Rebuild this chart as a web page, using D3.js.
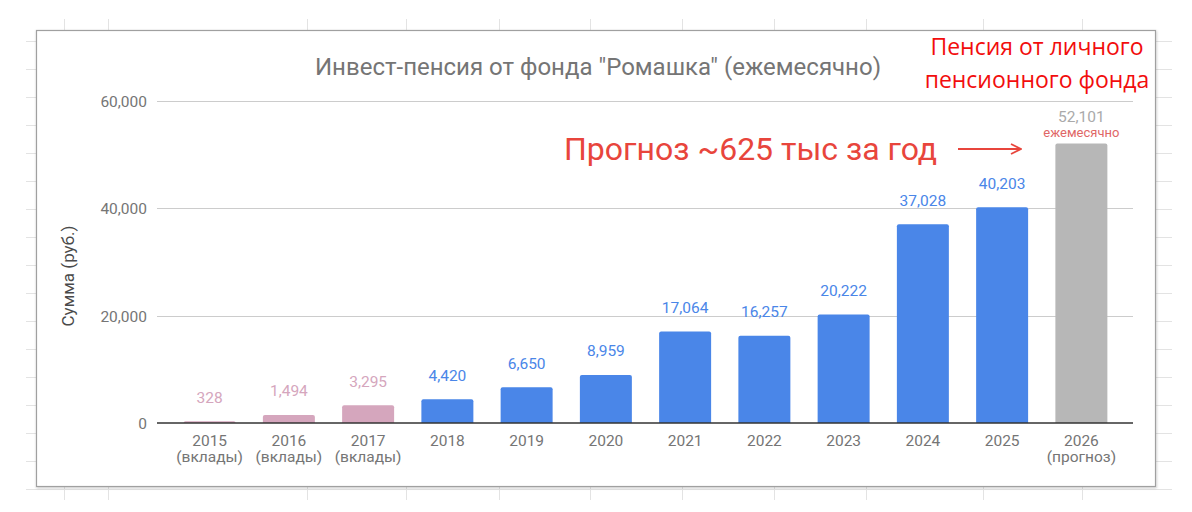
<!DOCTYPE html>
<html>
<head>
<meta charset="utf-8">
<script src="https://cdn.jsdelivr.net/npm/d3@7/dist/d3.min.js"></script>
<style>
  html, body { margin: 0; padding: 0; background: #fff; }
  svg { display: block; }
</style>
</head>
<body>
<svg id="chart" width="1192" height="512"></svg>
<script>
// ---- data ----
const years = ["2015", "2016", "2017", "2018", "2019", "2020", "2021", "2022", "2023", "2024", "2025", "2026"];
const subLabels = ["(вклады)", "(вклады)", "(вклады)", "", "", "", "", "", "", "", "", "(прогноз)"];
const values = [328, 1494, 3295, 4420, 6650, 8959, 17064, 16257, 20222, 37028, 40203, 52101];
const groups = ["deposit", "deposit", "deposit", "invest", "invest", "invest", "invest", "invest", "invest", "invest", "invest", "forecast"];
const yTicks = [0, 20000, 40000, 60000];
const title = "Инвест-пенсия от фонда \"Ромашка\" (ежемесячно)";
const yTitle = "Сумма (руб.)";
const forecastNote = "Прогноз ~625 тыс за год";
const forecastSub = "ежемесячно";
const cornerNote = ["Пенсия от личного", "пенсионного фонда"];
// spreadsheet background grid (column / row positions in the screenshot)
const sheetCols = [64, 108, 307, 406, 499, 590, 682, 774, 866, 983, 1082];
const sheetRows = [41, 69, 97, 125, 153, 181, 209, 237, 265, 293, 321, 349, 377, 405, 433, 461, 489];

const barColor = { deposit: "#d5a6bd", invest: "#4a86e8", forecast: "#b7b7b7" };
const labelColor = { deposit: "#d5a6bd", invest: "#4a86e8", forecast: "#aaaaaa" };

const svg = d3.select("#chart");
const font = "Roboto, 'Noto Sans', Arial, sans-serif";

// ---- spreadsheet grid behind ----
const sheet = svg.append("g").attr("stroke", "#e3e3e3").attr("stroke-width", 1);
sheet.selectAll("line.col").data(sheetCols).join("line")
  .attr("x1", d => d + 0.5).attr("x2", d => d + 0.5).attr("y1", 19).attr("y2", 500);
sheet.selectAll("line.row").data(sheetRows).join("line")
  .attr("x1", 26).attr("x2", 1172).attr("y1", d => d + 0.5).attr("y2", d => d + 0.5);

// ---- chart frame ----
const defs = svg.append("defs");
const f = defs.append("filter").attr("id", "sh").attr("x", "-5%").attr("y", "-5%").attr("width", "110%").attr("height", "110%");
f.append("feDropShadow").attr("dx", 0.5).attr("dy", 1).attr("stdDeviation", 0.8).attr("flood-color", "#000").attr("flood-opacity", 0.25);
svg.append("rect").attr("x", 36.5).attr("y", 30.5).attr("width", 1119).attr("height", 456)
  .attr("fill", "#fff").attr("stroke", "#a0a0a0").attr("stroke-width", 1.2).attr("filter", "url(#sh)");

// ---- scales ----
const plotLeft = 157, plotRight = 1133;
const y = d3.scaleLinear().domain([0, 60000]).range([423, 101]);
const pad = 0.344;
const x = d3.scaleBand().domain(years).range([170, 1121]).paddingInner(pad).paddingOuter(pad / 2);

// gridlines
svg.append("g").selectAll("line").data(yTicks.filter(d => d !== 0)).join("line")
  .attr("x1", plotLeft).attr("x2", plotRight)
  .attr("y1", d => Math.round(y(d)) + 0.5).attr("y2", d => Math.round(y(d)) + 0.5)
  .attr("stroke", "#cccccc").attr("stroke-width", 1);

// y axis labels
const yAxis = d3.axisLeft(y).tickValues(yTicks).tickFormat(d3.format(",")).tickSize(0).tickPadding(0);
const yg = svg.append("g").attr("transform", "translate(147,0)").call(yAxis);
yg.select(".domain").remove();
yg.selectAll("text").attr("fill", "#757575").attr("font-family", font).attr("font-size", 15.5).attr("dy", "0.35em");

// y title
svg.append("text").attr("transform", "translate(74,276) rotate(-90)")
  .attr("text-anchor", "middle").attr("font-family", font).attr("font-size", 17)
  .attr("fill", "#4a4a4a").text(yTitle);

// title
svg.append("text").attr("x", 598).attr("y", 75).attr("text-anchor", "middle")
  .attr("font-family", font).attr("font-size", 24).attr("fill", "#757575").text(title);

// bars (rounded top corners)
const r = 2;
function barPath(d, i) {
  const x0 = x(years[i]), w = x.bandwidth(), y0 = y(0), y1 = y(d);
  const h = y0 - y1;
  const rr = Math.min(r, h);
  return `M${x0},${y0}V${y1 + rr}Q${x0},${y1} ${x0 + rr},${y1}H${x0 + w - rr}Q${x0 + w},${y1} ${x0 + w},${y1 + rr}V${y0}Z`;
}
svg.append("g").selectAll("path").data(values).join("path")
  .attr("d", barPath)
  .attr("fill", (d, i) => barColor[groups[i]]);

// baseline
svg.append("line").attr("x1", plotLeft).attr("x2", plotRight)
  .attr("y1", y(0)).attr("y2", y(0)).attr("stroke", "#333").attr("stroke-width", 1.5);

// value labels
svg.append("g").selectAll("text").data(values).join("text")
  .attr("x", (d, i) => x(years[i]) + x.bandwidth() / 2)
  .attr("y", (d, i) => y(d) - (groups[i] === "forecast" ? 21 : 18.5))
  .attr("text-anchor", "middle").attr("font-family", font).attr("font-size", 15.5)
  .attr("fill", (d, i) => labelColor[groups[i]])
  .text(d => d3.format(",")(d));

// forecast sub label
const lastI = values.length - 1;
svg.append("text").attr("x", x(years[lastI]) + x.bandwidth() / 2).attr("y", y(values[lastI]) - 6)
  .attr("text-anchor", "middle").attr("font-family", font).attr("font-size", 13)
  .attr("fill", "#e06666").text(forecastSub);

// x labels
const xl = svg.append("g").selectAll("g").data(years).join("g")
  .attr("transform", d => `translate(${x(d) + x.bandwidth() / 2},0)`);
xl.append("text").attr("y", 445.5).attr("text-anchor", "middle").attr("font-family", font)
  .attr("font-size", 15.5).attr("fill", "#757575").text(d => d);
xl.append("text").attr("y", 462).attr("text-anchor", "middle").attr("font-family", font)
  .attr("font-size", 15.5).attr("fill", "#757575").text((d, i) => subLabels[i]);

// big forecast annotation
svg.append("text").attr("x", 564).attr("y", 160).attr("font-family", font)
  .attr("font-size", 32).attr("fill", "#e8453c").text(forecastNote);
// arrow
defs.append("marker").attr("id", "arr").attr("viewBox", "0 0 12 12").attr("refX", 11).attr("refY", 6)
  .attr("markerWidth", 12).attr("markerHeight", 12).attr("markerUnits", "userSpaceOnUse").attr("orient", "auto")
  .append("path").attr("d", "M1,1 L11,6 L1,11").attr("fill", "none").attr("stroke", "#e8453c").attr("stroke-width", 1.8);
svg.append("line").attr("x1", 958).attr("x2", 1021).attr("y1", 149).attr("y2", 149)
  .attr("stroke", "#e8453c").attr("stroke-width", 1.8).attr("marker-end", "url(#arr)");

// corner note
svg.append("g").selectAll("text").data(cornerNote).join("text")
  .attr("x", 1037).attr("y", (d, i) => 55 + i * 33)
  .attr("text-anchor", "middle").attr("font-family", "'Open Sans', 'Noto Sans', sans-serif")
  .attr("font-size", 23).attr("fill", "#f20d0d").text(d => d);
</script>
</body>
</html>
